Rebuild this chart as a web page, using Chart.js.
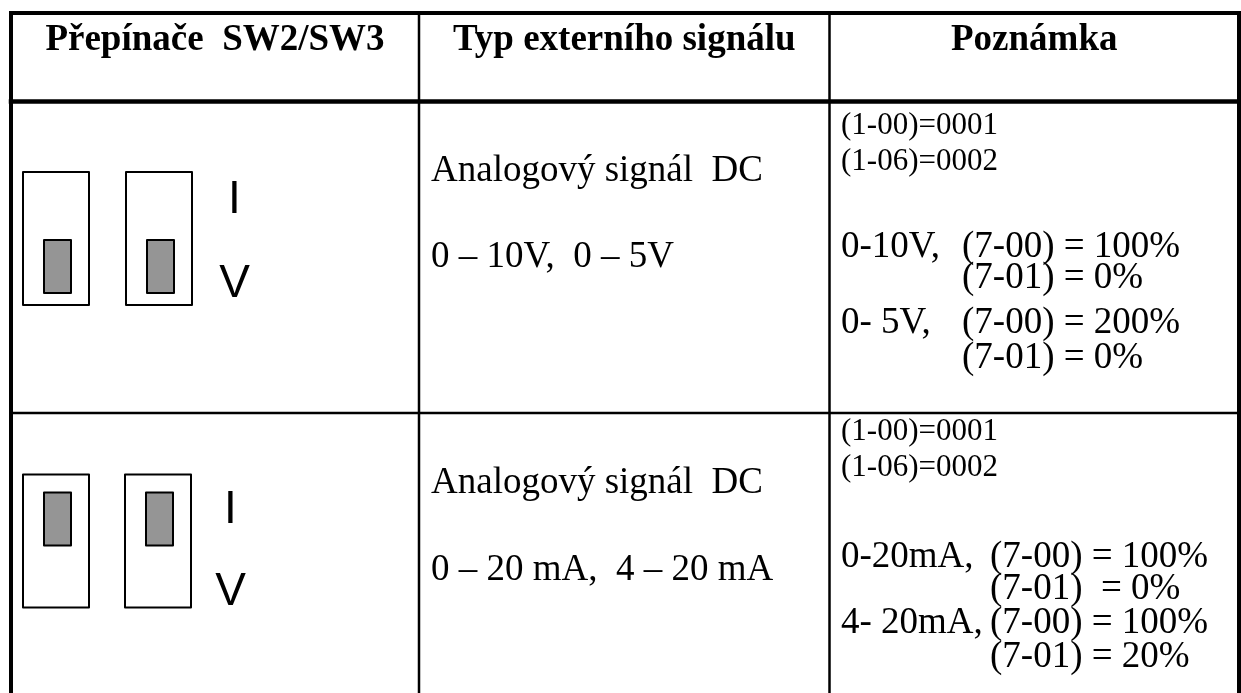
<!DOCTYPE html>
<html>
<head>
<meta charset="utf-8">
<script src="https://cdn.jsdelivr.net/npm/chart.js@4.4.1/dist/chart.umd.min.js"></script>
<style>
  html, body { margin: 0; padding: 0; background: #fff; }
  #wrap { width: 1241px; height: 693px; }
</style>
</head>
<body>
<div id="wrap"><canvas id="tableChart" width="1241" height="693"></canvas></div>
<script>
// obsah tabulky
const headers = ['Přepínače  SW2/SW3', 'Typ externího signálu', 'Poznámka'];
const switchPositions = [['V', 'V'], ['I', 'I']]; // poloha SW2, SW3 v kazdem radku
const switchMarks = ['I', 'V'];
const signalTypes = [
    ['Analogový signál  DC', '0 – 10V,  0 – 5V'],
    ['Analogový signál  DC', '0 – 20 mA,  4 – 20 mA']
];
const paramLines = [
    ['(1-00)=0001', '(1-06)=0002'],
    ['(1-00)=0001', '(1-06)=0002']
];
const rangeLabels = [
    ['0-10V,', '', '0- 5V,', ''],
    ['0-20mA,', '', '4- 20mA,', '']
];
const rangeSettings = [
    ['(7-00) = 100%', '(7-01) = 0%', '(7-00) = 200%', '(7-01) = 0%'],
    ['(7-00) = 100%', '(7-01)  = 0%', '(7-00) = 100%', '(7-01) = 20%']
];

// rozlozeni (v jednotkach os, 1 jednotka = 1 px)
const colEdges = [11, 419, 829.5, 1239];
const tableTop = 13;
const headerBottom = 101.5;
const rowEdges = [headerBottom, 413];
const rowLayout = [
    { boxTop: 172, boxX: [23, 126], markX: 234.5, markBase: [212.5, 296.5],
      sigBase: [181, 267], paramBase: [134, 170], rangeBase: [257, 288, 333, 368], settingX: 962 },
    { boxTop: 474.5, boxX: [23, 125], markX: 230.5, markBase: [522.5, 604.5],
      sigBase: [493, 580], paramBase: [440, 476], rangeBase: [567, 599, 633, 667], settingX: 990 }
];
const boxW = 66, boxH = 133;
const knobDx = 21, knobW = 27, knobH = 53;

const tablePlugin = {
    id: 'tablePlugin',
    afterDraw(chart) {
        const ctx = chart.ctx;
        const xs = chart.scales.x;
        const ys = chart.scales.y;
        const px = v => xs.getPixelForValue(v);
        const py = v => ys.getPixelForValue(v);

        ctx.save();
        ctx.fillStyle = '#000';
        ctx.textBaseline = 'alphabetic';

        // hlavicka
        ctx.font = 'bold 37px "Liberation Serif", "Times New Roman", serif';
        ctx.textAlign = 'center';
        headers.forEach((h, i) => {
            ctx.fillText(h, px((colEdges[i] + colEdges[i + 1]) / 2), py(50));
        });

        rowLayout.forEach((lay, r) => {
            // prepinace
            ctx.lineJoin = 'round';
            switchPositions[r].forEach((pos, k) => {
                const x0 = lay.boxX[k];
                ctx.lineWidth = 2;
                ctx.strokeStyle = '#000';
                ctx.strokeRect(px(x0), py(lay.boxTop), px(x0 + boxW) - px(x0), py(lay.boxTop + boxH) - py(lay.boxTop));
                const kTop = pos === 'I' ? lay.boxTop + 18 : lay.boxTop + 68;
                ctx.fillStyle = '#959595';
                ctx.fillRect(px(x0 + knobDx), py(kTop), px(x0 + knobDx + knobW) - px(x0 + knobDx), py(kTop + knobH) - py(kTop));
                ctx.strokeRect(px(x0 + knobDx), py(kTop), px(x0 + knobDx + knobW) - px(x0 + knobDx), py(kTop + knobH) - py(kTop));
            });
            ctx.fillStyle = '#000';
            ctx.font = '46px "Liberation Sans", Arial, sans-serif';
            ctx.textAlign = 'center';
            switchMarks.forEach((m, i) => ctx.fillText(m, px(lay.markX), py(lay.markBase[i])));

            // typ signalu
            ctx.textAlign = 'left';
            ctx.font = '37px "Liberation Serif", "Times New Roman", serif';
            signalTypes[r].forEach((t, i) => ctx.fillText(t, px(431), py(lay.sigBase[i])));

            // poznamka
            ctx.font = '31px "Liberation Serif", "Times New Roman", serif';
            paramLines[r].forEach((t, i) => ctx.fillText(t, px(841), py(lay.paramBase[i])));
            ctx.font = '37px "Liberation Serif", "Times New Roman", serif';
            rangeSettings[r].forEach((t, i) => {
                if (rangeLabels[r][i]) ctx.fillText(rangeLabels[r][i], px(841), py(lay.rangeBase[i]));
                ctx.fillText(t, px(lay.settingX), py(lay.rangeBase[i]));
            });
        });

        // mrizka
        ctx.strokeStyle = '#000';
        ctx.lineCap = 'square';
        const line = (x1, y1, x2, y2, w) => {
            ctx.lineWidth = w;
            ctx.beginPath();
            ctx.moveTo(px(x1), py(y1));
            ctx.lineTo(px(x2), py(y2));
            ctx.stroke();
        };
        const bottom = 700;
        line(colEdges[1], tableTop, colEdges[1], bottom, 2.5);
        line(colEdges[2], tableTop, colEdges[2], bottom, 2.5);
        line(colEdges[0], rowEdges[1], colEdges[3], rowEdges[1], 2.5);
        line(colEdges[0], headerBottom, colEdges[3], headerBottom, 4.5);
        line(colEdges[0], tableTop, colEdges[3], tableTop, 4);
        line(colEdges[0], tableTop, colEdges[0], bottom, 4);
        line(colEdges[3], tableTop, colEdges[3], bottom, 4);
        ctx.restore();
    }
};

new Chart(document.getElementById('tableChart').getContext('2d'), {
    type: 'scatter',
    data: { datasets: [{ data: [], pointRadius: 0 }] },
    options: {
        responsive: false,
        animation: false,
        layout: { padding: 0 },
        events: [],
        plugins: { legend: { display: false }, tooltip: { enabled: false } },
        scales: {
            x: { type: 'linear', min: 0, max: 1241, display: false },
            y: { type: 'linear', min: 0, max: 693, reverse: true, display: false }
        }
    },
    plugins: [tablePlugin]
});
</script>
</body>
</html>
